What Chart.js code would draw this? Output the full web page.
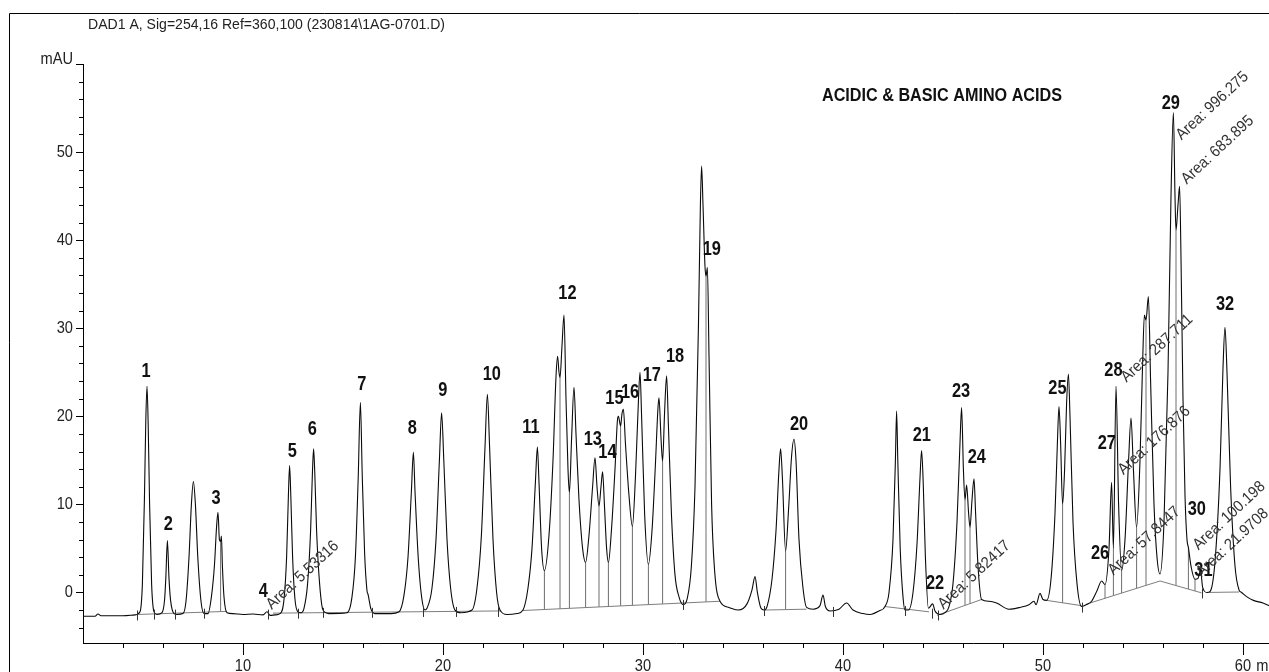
<!DOCTYPE html>
<html><head><meta charset="utf-8">
<script src="https://cdn.jsdelivr.net/npm/chart.js@4.4.0/dist/chart.umd.min.js"></script>
<style>html,body{margin:0;padding:0;background:#fff;overflow:hidden}canvas{display:block}</style>
</head><body>
<canvas id="c" width="1269" height="672" style="width:1269px;height:672px"></canvas>
<script>
// ---------------- DATA ----------------
const sigTime = [2.0,2.6,2.75,2.9,4.0,4.6,4.85,4.97,5.07,5.14,5.2,5.26,5.33,5.43,5.55,5.7,5.95,6.08,6.14,6.22,6.3,6.38,6.55,6.7,7.0,7.15,7.3,7.42,7.52,7.62,7.74,7.9,8.05,8.25,8.42,8.57,8.68,8.75,8.82,8.88,8.92,8.97,9.05,9.2,9.5,10.0,10.5,11.0,11.2,11.35,11.6,11.85,12.05,12.18,12.27,12.33,12.39,12.48,12.6,12.75,12.9,13.05,13.23,13.38,13.47,13.53,13.59,13.68,13.83,14.0,14.3,15.2,15.45,15.62,15.76,15.87,15.96,16.08,16.2,16.25,16.4,16.6,17.4,17.8,18.05,18.25,18.42,18.52,18.6,18.76,18.93,19.1,19.2,19.45,19.65,19.82,19.93,20.04,20.2,20.38,20.6,20.9,21.45,21.7,21.92,22.1,22.22,22.33,22.5,22.68,22.85,23.2,23.7,24.0,24.25,24.45,24.62,24.72,24.8,24.93,25.07,25.3,25.5,25.65,25.73,25.8,25.85,25.95,26.05,26.15,26.25,26.32,26.43,26.55,26.65,26.8,26.98,27.13,27.3,27.48,27.6,27.7,27.8,27.9,27.98,28.07,28.18,28.27,28.42,28.6,28.72,28.77,28.88,28.95,29.02,29.12,29.3,29.47,29.62,29.75,29.85,29.93,30.08,30.27,30.45,30.62,30.75,30.8,30.9,30.98,31.08,31.18,31.27,31.42,31.6,31.8,32.02,32.2,32.42,32.6,32.77,32.87,32.93,33.0,33.1,33.15,33.22,33.3,33.43,33.58,33.85,34.3,34.77,35.2,35.45,35.6,35.72,35.9,36.05,36.2,36.45,36.65,36.8,36.88,36.97,37.13,37.28,37.43,37.55,37.65,37.8,38.0,38.18,38.5,38.85,39.0,39.12,39.35,39.8,40.18,40.5,41.0,41.35,41.8,42.1,42.3,42.5,42.62,42.68,42.74,42.86,43.0,43.1,43.27,43.5,43.7,43.85,43.93,44.01,44.12,44.27,44.48,44.6,44.85,45.1,45.3,45.5,45.7,45.85,45.93,46.02,46.1,46.18,46.28,46.35,46.45,46.55,46.63,46.75,46.93,47.3,47.68,48.3,48.85,49.3,49.55,49.65,49.85,50.0,50.18,50.4,50.6,50.72,50.8,50.88,50.98,51.08,51.18,51.27,51.35,51.5,51.7,51.93,52.15,52.43,52.7,52.93,53.1,53.3,53.43,53.52,53.65,53.78,53.93,54.1,54.28,54.4,54.52,54.68,54.85,54.98,55.07,55.15,55.27,55.38,55.55,55.7,55.85,56.05,56.25,56.4,56.52,56.6,56.65,56.75,56.83,56.9,57.0,57.1,57.2,57.27,57.4,57.6,57.75,57.88,57.98,58.2,58.35,58.6,58.85,59.0,59.1,59.2,59.38,59.6,59.8,59.93,60.2,60.52,61.0,61.3];
const sigMAU = [-2.7,-2.7,-2.45,-2.65,-2.65,-2.55,-2.2,1.0,10.5,19.5,23.4,19.0,10.0,1.0,-2.2,-2.5,-2.3,-0.8,1.6,5.9,1.6,-0.9,-2.4,-2.5,-2.4,-1.0,4.0,10.0,12.6,10.0,4.0,-1.0,-2.4,-2.4,-0.5,3.0,7.5,9.1,6.0,5.8,6.4,3.0,-0.5,-2.3,-2.4,-2.5,-2.45,-2.55,-2.2,-2.6,-2.55,-2.4,-0.8,4.0,11.0,14.4,11.0,4.0,-0.8,-2.2,-2.3,-1.8,1.0,7.0,13.5,16.3,13.5,7.0,1.0,-2.0,-2.4,-2.3,-0.5,4.0,13.0,21.6,13.5,4.5,0.2,-0.2,-1.9,-2.4,-2.4,-2.2,-0.3,4.0,11.5,15.9,11.5,4.0,-0.5,-2.0,-1.8,0.5,6.0,15.0,20.4,15.0,6.0,0.5,-2.0,-2.3,-2.0,0.5,6.5,16.5,22.5,16.5,6.0,0.0,-2.0,-2.5,-2.4,-2.0,0.5,5.0,12.5,16.5,12.5,5.0,2.5,6.5,15.0,24.5,26.8,25.0,24.4,28.0,31.5,22.0,14.0,11.3,17.5,23.3,18.0,10.5,5.0,3.4,6.5,12.0,15.3,12.0,9.8,12.0,13.7,10.0,5.0,3.4,7.0,14.0,19.5,20.0,18.9,20.3,20.8,17.0,11.0,7.5,13.0,20.5,25.0,20.0,9.0,3.2,7.0,14.5,21.0,22.1,17.5,14.9,20.5,24.6,19.0,9.0,2.0,-0.5,-1.4,-0.8,3.0,12.0,30.0,44.0,48.4,44.0,37.0,35.9,36.9,27.0,10.0,2.5,-1.0,-1.7,-2.0,-1.3,0.3,1.8,0.0,-1.8,-2.0,-1.6,1.5,7.0,14.0,16.3,13.0,4.7,9.5,15.5,17.4,15.0,6.0,0.5,-1.7,-1.9,-1.5,-0.3,-1.6,-2.1,-1.9,-1.2,-2.0,-2.4,-2.5,-2.1,-1.6,0.0,6.0,15.0,20.6,15.0,5.0,-0.5,-2.0,-2.0,0.0,5.5,13.0,16.1,12.5,4.0,-1.8,-1.3,-2.1,-2.5,-2.3,-1.6,1.0,8.0,17.0,21.0,14.0,10.5,12.2,9.0,7.4,10.5,12.9,9.0,3.0,-0.8,-1.0,-1.2,-1.9,-1.7,-1.4,-1.0,-1.4,-0.1,-0.8,-0.9,1.5,9.0,17.0,21.1,17.0,10.0,14.0,21.5,24.8,20.0,8.0,1.0,-1.6,-1.4,-1.0,0.2,1.3,0.9,5.0,12.5,5.0,23.4,10.0,2.5,6.0,15.0,19.8,14.0,7.4,15.0,26.0,31.5,30.9,33.6,24.0,10.0,4.0,2.1,8.0,25.0,45.0,54.5,45.0,41.1,44.0,46.1,38.0,22.0,11.0,6.0,5.1,3.0,1.5,1.6,2.5,0.6,0.0,0.1,3.5,14.0,25.5,30.1,25.0,12.0,3.0,0.3,0.0,-0.5,-0.9,-1.2,-1.5];

// integration baselines (null = gap between segments)
const baseTime = [4.77,9.2,9.2, 11.5,22.9,22.9, 24.0,33.85,33.85, 36.05,38.18,38.18, 42.1,44.3,44.3, 44.7,46.93,46.93, 50.18,51.93,51.93, 52.35,55.85,57.93,57.93, 58.3,59.8];
const baseMAU  = [-2.5,-2.15,null, -2.35,-2.1,null, -2.05,-1.0,null, -2.0,-1.9,null, -1.6,-2.2,null, -2.6,-0.8,null, -0.9,-1.5,null, -1.2,1.3,-0.05,null, 0.0,0.05];

// drop lines between unresolved peaks
const dropTime   = [8.88,25.07,25.85,26.32,27.13,27.8,28.27,28.88,29.47,30.27,30.98,33.15,37.13,46.1,46.35,50.98,53.1,53.52,53.93,54.68,55.15,56.65,57.27,57.6];
const dropTop    = [5.8,2.5,24.4,11.3,3.4,9.8,3.4,18.9,7.5,3.2,14.9,35.9,4.7,10.5,7.4,10.0,0.9,5.0,2.5,7.4,30.9,41.1,5.1,1.5];
const dropBottom = [-2.15,-1.94,-1.85,-1.8,-1.72,-1.64,-1.6,-1.53,-1.47,-1.38,-1.31,-1.08,-1.95,-1.47,-1.27,-1.2,-0.66,-0.36,-0.07,0.46,0.8,0.78,0.38,0.16];

// integration event marks
const eventTime = [4.68,5.57,6.6,8.05,11.27,12.73,14.0,16.47,19.02,20.65,22.77,32.02,36.05,39.48,43.1,44.43,44.77,51.97,57.93];
const eventMAU  = [-2.5,-2.4,-2.4,-2.3,-2.4,-2.3,-2.2,-2.2,-2.1,-2.1,-2.1,-1.3,-2.0,-2.1,-2.0,-2.3,-2.5,-1.6,0.0];

// peak number labels (anchor in minutes / mAU)
const peakLabelText = ['1','2','3','4','5','6','7','8','9','10','11','12','13','14','15','16','17','18','19','20','21','22','23','24','25','26','27','28','29','30','31','32'];
const peakLabelTime = [5.15,6.27,8.65,11.02,12.47,13.47,15.94,18.47,19.99,22.44,24.4,26.22,27.49,28.22,28.57,29.35,30.44,31.6,33.44,37.8,43.94,44.6,45.9,46.69,50.72,52.85,53.19,53.52,56.39,57.69,58.02,59.1];
const peakLabelMAU  = [25.1,7.7,10.7,0.1,16.0,18.5,23.6,18.7,23.0,24.75,18.8,34.0,17.4,15.9,22.1,22.7,24.7,26.8,39.0,19.1,17.9,1.1,22.8,15.3,23.2,4.5,16.9,25.2,55.5,9.4,2.5,32.75];

// manual area annotations
const areaText = ['Area: 5.53316','Area: 5.82417','Area: 57.8447','Area: 176.876','Area: 287.711','Area: 996.275','Area: 683.895','Area: 100.198','Area: 21.9708'];
const areaTime = [11.44,45.02,53.52,54.02,54.18,56.93,57.19,57.77,57.93];
const areaMAU  = [-1.98,-1.96,1.9,13.3,23.8,51.3,46.3,4.75,1.7];

// axes
const yTickValues = [0,10,20,30,40,50,60];
const yTickLabels = ['0','10','20','30','40','50','mAU'];
const xTickValues = [10,20,30,40,50,60];
const xTickLabels = ['10','20','30','40','50','60'];
const xUnit = 'min';
const headerText = 'DAD1 A, Sig=254,16 Ref=360,100 (230814\\1AG-0701.D)';
const titleText = 'ACIDIC & BASIC AMINO ACIDS';

// ---------------- RENDERING ----------------
const FONT = "'Liberation Sans', Arial, Helvetica, sans-serif";
function drawText(ctx, s, x, y, o) {
  ctx.save();
  ctx.font = (o.bold ? 'bold ' : '') + o.size + 'px ' + FONT;
  ctx.fillStyle = o.color || '#111';
  ctx.textBaseline = o.baseline || 'middle';
  ctx.textAlign = 'left';
  ctx.translate(x, y);
  if (o.rotate) ctx.rotate(o.rotate * Math.PI / 180);
  let sx = o.sx || 1;
  const w0 = ctx.measureText(s).width;
  if (o.width) sx = o.width / w0;
  ctx.scale(sx, 1);
  let dx = 0;
  if (o.align === 'center') dx = -w0 / 2; else if (o.align === 'right') dx = -w0;
  ctx.fillText(s, dx, 0);
  ctx.restore();
  return w0 * sx;
}

const decor = {
  id: 'decor',
  beforeDraw(chart) {
    const ctx = chart.ctx;
    ctx.save(); ctx.fillStyle = '#fff'; ctx.fillRect(0, 0, chart.width, chart.height); ctx.restore();
  },
  afterDraw(chart) {
    const {ctx, chartArea: ca, scales: {x: xs, y: ys}} = chart;
    ctx.save();
    ctx.strokeStyle = '#000'; ctx.lineWidth = 1;
    // outer frame
    ctx.beginPath(); ctx.moveTo(9.5, chart.height); ctx.lineTo(9.5, 13.5); ctx.lineTo(chart.width, 13.5); ctx.stroke();
    // tick marks
    ctx.beginPath();
    for (let v = Math.ceil(ys.min / 2) * 2; v <= ys.max + 1e-9; v += 2) {
      const py = Math.round(ys.getPixelForValue(v)) + 0.5;
      const len = (v % 10 === 0) ? 7 : 4;
      ctx.moveTo(ca.left - len, py); ctx.lineTo(ca.left, py);
    }
    for (let t = Math.ceil((xs.min + 0.01) / 2) * 2; t <= xs.max; t += 2) {
      const px = Math.round(xs.getPixelForValue(t)) + 0.5;
      const len = (t % 10 === 0) ? 12 : 5;
      ctx.moveTo(px, ca.bottom); ctx.lineTo(px, ca.bottom + len);
    }
    ctx.stroke();
    // integration event marks
    ctx.strokeStyle = '#333';
    ctx.beginPath();
    eventTime.forEach((t, i) => {
      const px = Math.round(xs.getPixelForValue(t)) + 0.5;
      const py = ys.getPixelForValue(eventMAU[i]);
      ctx.moveTo(px, py - 4); ctx.lineTo(px, py + 6);
    });
    ctx.stroke();
    ctx.restore();

    // tick labels
    yTickValues.forEach((v, i) => {
      const py = ys.getPixelForValue(v);
      drawText(ctx, yTickLabels[i], ca.left - 10, py - (v === 60 ? 5 : 0), {size: 17, sx: 0.86, align: 'right', color: '#222'});
    });
    xTickValues.forEach((t, i) => {
      const px = xs.getPixelForValue(t);
      const w = drawText(ctx, xTickLabels[i], px, 671, {size: 17, sx: 0.86, align: 'center', baseline: 'alphabetic', color: '#222'});
      if (i === xTickValues.length - 1) {
        drawText(ctx, xUnit, px + w / 2 + 5, 671, {size: 17, sx: 0.86, baseline: 'alphabetic', color: '#222'});
      }
    });

    // header and title
    drawText(ctx, headerText, 88, 25, {size: 15, width: 357, color: '#222'});
    drawText(ctx, titleText, 822, 96, {size: 19, bold: true, width: 240, color: '#111'});

    // peak labels
    peakLabelText.forEach((s, i) => {
      drawText(ctx, s, xs.getPixelForValue(peakLabelTime[i]), ys.getPixelForValue(peakLabelMAU[i]),
        {size: 21, bold: true, sx: 0.78, align: 'center', color: '#111'});
    });

    // area annotations
    areaText.forEach((s, i) => {
      drawText(ctx, s, xs.getPixelForValue(areaTime[i]), ys.getPixelForValue(areaMAU[i]),
        {size: 16, sx: 0.92, rotate: -43, baseline: 'alphabetic', color: '#333'});
    });
  }
};

const sigData = sigTime.map((t, i) => ({x: t, y: sigMAU[i]}));
const baseData = baseTime.map((t, i) => ({x: t, y: baseMAU[i]}));
const dropData = [];
dropTime.forEach((t, i) => {
  dropData.push({x: t, y: dropBottom[i]}, {x: t, y: dropTop[i]}, {x: t, y: null});
});

new Chart(document.getElementById('c'), {
  type: 'line',
  data: {
    datasets: [
      {data: sigData, borderColor: '#0a0a0a', borderWidth: 1.1, pointRadius: 0, cubicInterpolationMode: 'monotone', fill: false},
      {data: baseData, borderColor: '#7d7d7d', borderWidth: 1, pointRadius: 0, tension: 0, spanGaps: false, fill: false},
      {data: dropData, borderColor: '#6e6e6e', borderWidth: 1, pointRadius: 0, tension: 0, spanGaps: false, fill: false}
    ]
  },
  options: {
    responsive: false,
    animation: false,
    devicePixelRatio: 1,
    layout: {padding: {top: 64, left: 0, right: 0, bottom: 0}},
    plugins: {legend: {display: false}, tooltip: {enabled: false}, title: {display: false}},
    events: [],
    scales: {
      x: {
        type: 'linear', position: 'bottom', min: 2.0, max: 61.3,
        grid: {display: false, drawTicks: false},
        border: {display: true, color: '#000', width: 1},
        ticks: {display: false},
        afterFit: s => { s.height = 29; }
      },
      y: {
        type: 'linear', position: 'left', min: -5.74, max: 60,
        grid: {display: false, drawTicks: false},
        border: {display: true, color: '#000', width: 1},
        ticks: {display: false},
        afterFit: s => { s.width = 83; }
      }
    }
  },
  plugins: [decor]
});
</script>
</body></html>
